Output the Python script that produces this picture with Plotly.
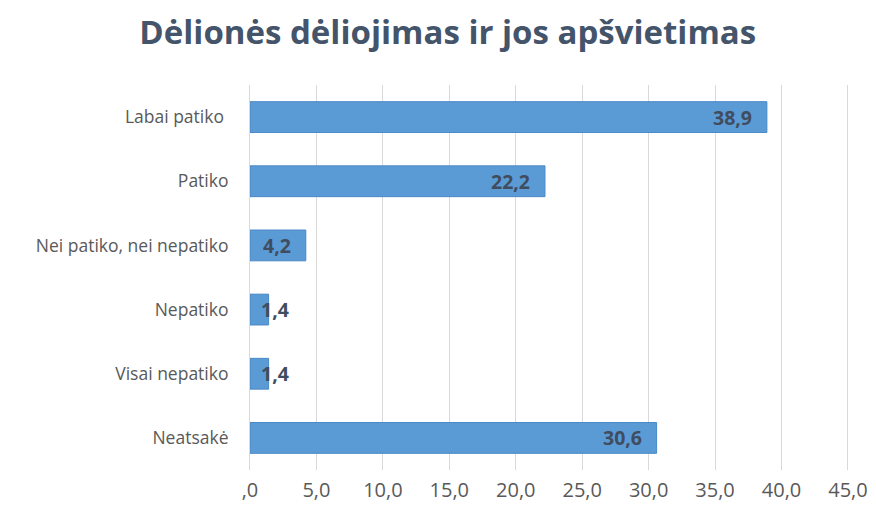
import plotly.graph_objects as go

categories = ["Labai patiko\u00a0", "Patiko", "Nei patiko, nei nepatiko", "Nepatiko", "Visai nepatiko", "Neatsakė"]
values = [38.9, 22.2, 4.2, 1.4, 1.4, 30.6]
tick_vals = [0, 5, 10, 15, 20, 25, 30, 35, 40, 45]
tick_text = [",0", "5,0", "10,0", "15,0", "20,0", "25,0", "30,0", "35,0", "40,0", "45,0"]
title_text = "Dėlionės dėliojimas ir jos apšvietimas"

FONT = "Open Sans"

def fmt(v):
    return f"{v:.1f}".replace(".", ",")

fig = go.Figure()
fig.add_trace(go.Bar(
    y=categories, x=values, orientation="h",
    width=0.48,
    marker=dict(color="#5B9BD5", line=dict(color="#4A88C7", width=1)),
    hoverinfo="skip",
))

for c, v in zip(categories, values):
    if v < 3:
        fig.add_annotation(x=0, y=c, xref="x", yref="y", text=f"<b>{fmt(v)}</b>",
                           showarrow=False, xanchor="left", xshift=9,
                           font=dict(family=FONT, size=19.5, color="#404D5E"))
    else:
        fig.add_annotation(x=v, y=c, xref="x", yref="y", text=f"<b>{fmt(v)}</b>",
                           showarrow=False, xanchor="right", xshift=-13,
                           font=dict(family=FONT, size=19.5, color="#404D5E"))

fig.update_layout(
    width=876, height=512,
    margin=dict(l=242, r=35, t=77, b=50),
    paper_bgcolor="white", plot_bgcolor="white",
    showlegend=False,
    font=dict(family=FONT, color="#595959"),
    title=dict(text=f"<b>{title_text}</b>", x=0.502, xanchor="center", y=0.953, yanchor="middle",
               font=dict(family=FONT, size=33, color="#44546A")),
    xaxis=dict(range=[0, 45.08], tickvals=tick_vals, ticktext=tick_text,
               showgrid=True, gridcolor="#D9D9D9", gridwidth=1, zeroline=False,
               showline=False, ticks="", ticklabelstandoff=6,
               tickfont=dict(family=FONT, size=20, color="#595959")),
    yaxis=dict(categoryorder="array", categoryarray=categories[::-1],
               showgrid=False, showline=True, linecolor="#D9D9D9", linewidth=1,
               ticks="", ticklabelstandoff=17,
               tickfont=dict(family=FONT, size=17.5, color="#595959")),
)

fig.write_html("out.html")
